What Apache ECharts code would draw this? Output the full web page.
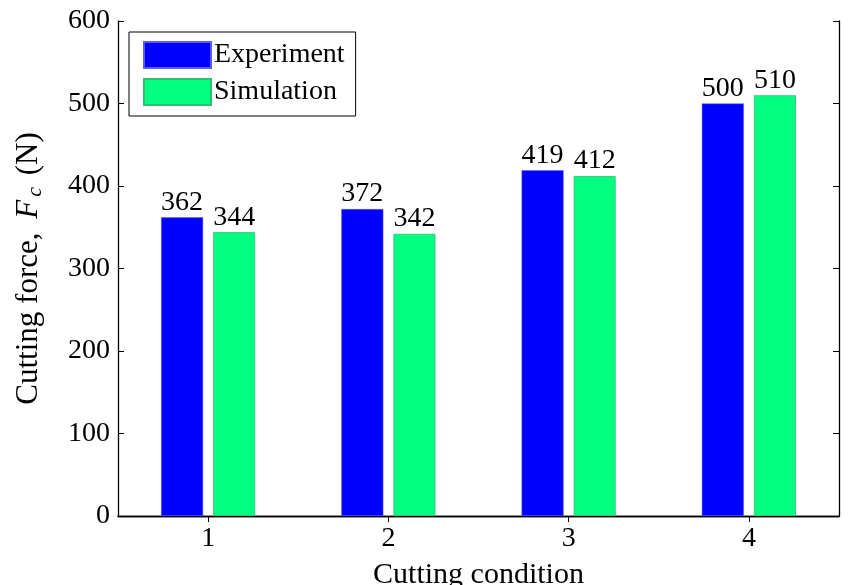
<!DOCTYPE html>
<html>
<head>
<meta charset="utf-8">
<script src="https://cdn.jsdelivr.net/npm/echarts@6/dist/echarts.min.js"></script>
<style>html,body{margin:0;padding:0;background:#fff}#c{width:850px;height:585px}</style>
</head>
<body>
<div id="c"></div>
<script>
var categories = ['1', '2', '3', '4'];
var experiment = [362, 372, 419, 500];
var simulation = [344, 342, 412, 510];
var yTicks = [0, 100, 200, 300, 400, 500, 600];

var FONT = '"Liberation Serif", "Times New Roman", serif';
var chart = echarts.init(document.getElementById('c'));
var labelStyle = {show: true, position: 'top', distance: 1, fontFamily: FONT, fontSize: 28, color: '#000'};
chart.setOption({
  animation: false,
  backgroundColor: '#fff',
  textStyle: {fontFamily: FONT},
  grid: {left: 118, right: 11, top: 21, bottom: 69, containLabel: false, outerBoundsMode: 'none'},
  legend: {
    left: 129, top: 32, orient: 'vertical',
    icon: 'rect',
    itemWidth: 67, itemHeight: 26, itemGap: 9,
    padding: [9, 11, 10, 14],
    borderColor: '#000', borderWidth: 1, backgroundColor: '#fff', borderRadius: 0,
    textStyle: {fontFamily: FONT, fontSize: 28, lineHeight: 26, color: '#000', padding: [0, 0, 0, -2]},
    data: ['Experiment', 'Simulation']
  },
  xAxis: [{
    type: 'category', data: categories, position: 'bottom',
    axisLine: {lineStyle: {color: '#000', width: 1.3}},
    axisTick: {inside: true, alignWithLabel: true, length: 6, lineStyle: {color: '#000'}},
    axisLabel: {fontFamily: FONT, fontSize: 28, color: '#000', margin: 9},
    name: 'Cutting condition', nameLocation: 'middle', nameGap: 44,
    nameTextStyle: {fontFamily: FONT, fontSize: 30, color: '#000'}
  }, {
    type: 'category', data: categories, position: 'top',
    axisLine: {show: true, lineStyle: {color: '#000', width: 1.3}},
    axisTick: {show: true, inside: true, alignWithLabel: true, length: 6, lineStyle: {color: '#000'}},
    axisLabel: {show: false}
  }],
  yAxis: [{
    type: 'value', min: 0, max: 600, interval: 100, position: 'left',
    axisLine: {show: true, lineStyle: {color: '#000', width: 1.3}},
    axisTick: {show: true, inside: true, length: 6, lineStyle: {color: '#000'}},
    splitLine: {show: false},
    axisLabel: {fontFamily: FONT, fontSize: 28, color: '#000', margin: 8,
      formatter: function (v) { return yTicks.indexOf(v) >= 0 ? String(v) : ''; }},
    name: 'Cutting force, {i|F}{s|c} {n|(N)}', nameLocation: 'middle', nameGap: 72, nameRotate: 90,
    nameTextStyle: {fontFamily: FONT, fontSize: 31, color: '#000',
      rich: {
        i: {fontFamily: FONT, fontSize: 31, fontStyle: 'italic', color: '#000', padding: [0, 3, 0, 6]},
        s: {fontFamily: FONT, fontSize: 22, fontStyle: 'italic', color: '#000', padding: [13, 0, 0, 0]},
        n: {fontFamily: FONT, fontSize: 31, color: '#000', padding: [0, 0, 0, 4]}
      }}
  }, {
    type: 'value', min: 0, max: 600, interval: 100, position: 'right',
    axisLine: {show: true, lineStyle: {color: '#000', width: 1.3}},
    axisTick: {show: true, inside: true, length: 6, lineStyle: {color: '#000'}},
    splitLine: {show: false},
    axisLabel: {show: false}
  }],
  series: [{
    name: 'Experiment', type: 'bar', data: experiment, barWidth: 42, barGap: '24%',
    itemStyle: {color: '#0000FF', borderColor: '#5a5aff', borderWidth: 0.5},
    label: labelStyle
  }, {
    name: 'Simulation', type: 'bar', data: simulation, barWidth: 42,
    itemStyle: {color: '#00FF80', borderColor: '#2fc070', borderWidth: 0.8},
    label: labelStyle
  }]
});
</script>
</body>
</html>
